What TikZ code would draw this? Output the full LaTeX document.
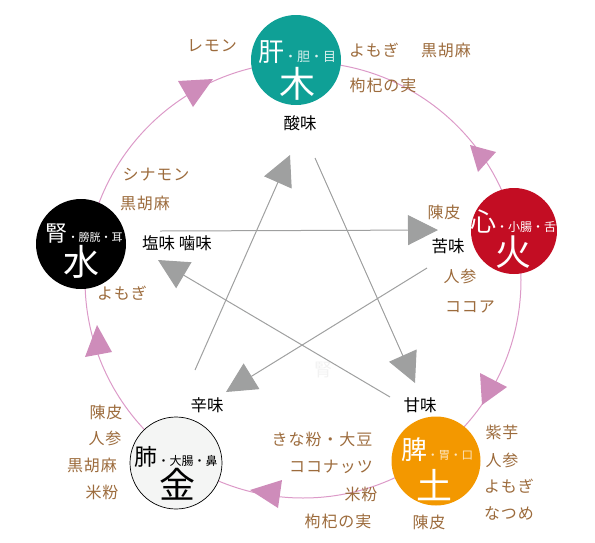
\documentclass[tikz,border=0pt]{standalone}
\usepackage{fontspec}
\setmainfont{Noto Sans CJK JP}
\newfontfamily\foodfont[LetterSpace=6]{Noto Sans CJK JP}
\usepackage{tikz}
\usetikzlibrary{arrows.meta,positioning,calc}
\definecolor{woodc}{HTML}{0FA096}
\definecolor{firec}{HTML}{C30D23}
\definecolor{earthc}{HTML}{F39800}
\definecolor{metalc}{HTML}{F4F5F4}
\definecolor{foodc}{HTML}{9C6B3C}
\definecolor{cycc}{HTML}{DC9AC8}
\definecolor{tric}{HTML}{CE8CBA}
\definecolor{ctlc}{HTML}{9FA0A0}
\newcommand{\Sub}[2]{{\fontsize{#1}{#1}\selectfont ・#2}}

\begin{document}
\begin{tikzpicture}[x=1pt, y=-1pt,
    organ/.style={circle, minimum size=90pt, inner sep=0pt},
    zofu/.style={inner sep=0pt, font=\fontsize{26}{28}\selectfont},
    elem/.style={inner sep=0pt, font=\fontsize{36}{38}\selectfont},
    food/.style={inner sep=0pt, text=foodc, font=\foodfont\fontsize{16}{18}\selectfont},
    taste/.style={inner sep=0pt, font=\fontsize{16.5}{18}\selectfont},
    ctl/.style={draw=ctlc, line width=1pt, -{Triangle[length=30pt, width=30pt]}},
    tri/.style={fill=tric},
  ]
  \useasboundingbox (0,0) rectangle (595,542);
  \draw[cycc, line width=1pt] (303,280) circle[radius=218pt];
  \fill[tri] (178,81) -- (213,79) -- (193,107) -- cycle;
  \fill[tri] (470,145) -- (496,152) -- (478,172) -- cycle;
  \fill[tri] (480,373) -- (482,405) -- (507,387) -- cycle;
  \fill[tri] (282,480) -- (278,508) -- (250,490) -- cycle;
  \fill[tri] (97,325) -- (85,357) -- (112,352) -- cycle;

  \node[organ, fill=woodc] (wood) at (296,60) {};
  \node[organ, fill=firec, minimum size=86pt] (fire) at (514,231) {};
  \node[organ, fill=earthc, minimum size=89pt] (earth) at (436,461) {};
  \node[organ, fill=metalc, draw=black, line width=0.7pt, minimum size=92pt] (metal) at (176,463) {};
  \node[organ, fill=black] (water) at (81,244) {};

  \node[zofu, text=white] (wood-z) at ($(wood)+(1,-8)$) {肝{\color{white!85!woodc}\Sub{13}{胆・目}}};
  \node[elem, text=white] (wood-e) at ($(wood)+(1,24)$) {木};
  \node[zofu, text=white] (fire-z) at ($(fire)+(-1,-10)$) {心\Sub{12}{小腸・舌}};
  \node[elem, text=white] (fire-e) at ($(fire)+(-1,21)$) {火};
  \node[zofu, text=white] (earth-z) at ($(earth)+(1,-11)$) {脾{\color{white!75!earthc}\Sub{11.5}{胃・口}}};
  \node[elem, text=white] (earth-e) at ($(earth)+(-2,24)$) {土};
  \node[zofu, font=\fontsize{23}{25}\selectfont] (metal-z) at ($(metal)+(0,-6)$) {肺\Sub{12}{大腸・鼻}};
  \node[elem] (metal-e) at ($(metal)+(1,21)$) {金};
  \node[zofu, text=white, font=\fontsize{22}{24}\selectfont] (water-z) at ($(water)+(3,-10)$) {腎\Sub{11}{膀胱・耳}};
  \node[elem, text=white] (water-e) at ($(water)+(0,18)$) {水};

  \node[taste] (sour) at (300,123) {酸味};
  \node[taste] (bitter) at (448,246) {苦味};
  \node[taste] (sweet) at (420,405) {甘味};
  \node[taste] (pungent) at (207,405) {辛味};
  \node[taste] (salty) at (177,243) {塩味\ 噛味};
  \node[inner sep=0pt, text=black!5, font=\fontsize{18}{20}\selectfont] (ghost) at (323,370) {腎};

  \node[food] (wood-f1) at (212,46) {レモン};
  \node[food] (wood-f2) at (374,50) {よもぎ};
  \node[food] (wood-f3) at (446,50) {黒胡麻};
  \node[food] (wood-f4) at (383,85) {枸杞の実};
  \node[food] (fire-f1) at (444,212) {陳皮};
  \node[food] (fire-f2) at (460,276) {人参};
  \node[food] (fire-f3) at (470,307) {ココア};
  \node[food] (earth-f1) at (502,432) {紫芋};
  \node[food] (earth-f2) at (502,460) {人参};
  \node[food] (earth-f3) at (509,486) {よもぎ};
  \node[food] (earth-f4) at (509,513) {なつめ};
  \node[food] (earth-f5) at (429,522) {陳皮};
  \node[food] (earth-f6) at (322,439) {きな粉・大豆};
  \node[food] (earth-f7) at (331,467) {ココナッツ};
  \node[food] (earth-f8) at (361,494) {米粉};
  \node[food] (earth-f9) at (338,521) {枸杞の実};
  \node[food] (metal-f1) at (106,412) {陳皮};
  \node[food] (metal-f2) at (105,438) {人参};
  \node[food] (metal-f3) at (92,465) {黒胡麻};
  \node[food] (metal-f4) at (102,492) {米粉};
  \node[food] (water-f1) at (156,175) {シナモン};
  \node[food] (water-f2) at (145,203) {黒胡麻};
  \node[food] (water-f3) at (122,293) {よもぎ};

  \coordinate (metal-s) at (195,370);
  \coordinate (wood-t) at (290,155);
  \coordinate (wood-s) at (315,158);
  \coordinate (earth-t) at (415,383);
  \coordinate (water-s) at (160,231);
  \coordinate (fire-t) at (438,230);
  \coordinate (fire-s) at (427,268);
  \coordinate (metal-t) at (226,392);
  \coordinate (earth-s) at (390,397);
  \coordinate (water-t) at (158,260);
  \draw[ctl] (metal-s) -- (wood-t);
  \draw[ctl] (wood-s) -- (earth-t);
  \draw[ctl] (water-s) -- (fire-t);
  \draw[ctl] (fire-s) -- (metal-t);
  \draw[ctl] (earth-s) -- (water-t);
\end{tikzpicture}
\end{document}
